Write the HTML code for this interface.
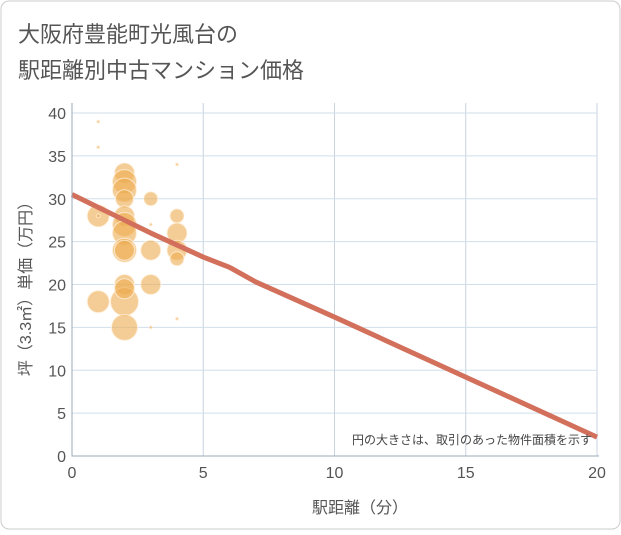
<!DOCTYPE html>
<html><head><meta charset="utf-8"><style>
body{margin:0;background:#fff;font-family:"Liberation Sans","Noto Sans CJK JP",sans-serif;}
#wrap{position:relative;width:621px;height:530px;}
</style></head><body>
<div id="wrap">
<svg id="chart" width="621" height="530" xmlns="http://www.w3.org/2000/svg">
<rect x="1" y="1" width="619" height="528" rx="8" fill="#fff" stroke="#ccc"/>
<text x="18" y="42" font-size="22" fill="#555" font-family="Liberation Sans,Noto Sans CJK JP,sans-serif">大阪府豊能町光風台の</text>
<text x="18" y="78" font-size="22" fill="#555" font-family="Liberation Sans,Noto Sans CJK JP,sans-serif">駅距離別中古マンション価格</text>
<g id="grid"></g><g id="bubbles"></g><g id="line"></g><g id="axes"></g>
<text x="592" y="444" font-size="12" fill="#444" text-anchor="end" font-family="Liberation Sans,Noto Sans CJK JP,sans-serif">円の大きさは、取引のあった物件面積を示す</text>
<text x="360" y="513" font-size="16" fill="#555" text-anchor="middle" font-family="Liberation Sans,Noto Sans CJK JP,sans-serif">駅距離（分）</text>
<text transform="translate(31,285) rotate(-90)" font-size="16" fill="#555" text-anchor="middle" font-family="Liberation Sans,Noto Sans CJK JP,sans-serif">坪（3.3㎡）単価（万円）</text>
</svg></div>
<script>
const xTicks=[0,5,10,15,20];
const yTicks=[0,5,10,15,20,25,30,35,40];
const bubbleX=[1,1,1,1,1,2,2,2,2,2,2,2,2,2,2,2,2,2,2,3,3,3,3,3,4,4,4,4,4,4];
const bubbleY=[39,36,28,18,28,33,32,31,30,28,27,26,24,24,20,18,15,19.5,27.5,30,24,20,27,15,34,28,26,24,23,16];
const bubbleSize=[1.5,1.5,11,11,2,10,12,12,9,10,12,12,12,10,10,14,13,10,2,7,10,10,1.5,1.5,1.5,7,10,10,7,1.5];
const lineX=[0,1,2,3,4,5,6,7,10,15,20];
const lineY=[30.5,29,27.5,26,24.6,23.2,22,20.3,16.2,9.2,2.2];
const NS="http://www.w3.org/2000/svg";
const X0=72,X1=597,Y0=456,Y1=113;
const sx=v=>X0+(v-0)/(20-0)*(X1-X0);
const sy=v=>Y0-(v-0)/(40-0)*(Y0-Y1);
function mk(t,a,p){const e=document.createElementNS(NS,t);for(const k in a)e.setAttribute(k,a[k]);document.getElementById(p).appendChild(e);return e;}
xTicks.forEach(v=>{
 const l=mk('line',{x1:sx(v),x2:sx(v),y1:Y1-10,y2:Y0,stroke:'#c8d4e0'},'grid');
 
 
 const t=mk('text',{x:sx(v),y:Y0+22,'font-size':16,fill:'#555','text-anchor':'middle'},'axes');
 t.textContent=v;
 
 
});
yTicks.forEach(v=>{
 const l=mk('line',{x1:X0,x2:X1,y1:sy(v),y2:sy(v),stroke:'#d0dfea'},'grid');
 
 
 const t=mk('text',{x:X0-6,y:sy(v)+6,'font-size':16,fill:'#555','text-anchor':'end'},'axes');
 t.textContent=v;
 
 
});
const ax=mk('path',{d:`M${X0} ${Y1-10}V${Y0}H${X1+2}`,stroke:'#9aa8b8',fill:'none'},'axes');


bubbleX.forEach((v,i)=>{
 const c=mk('circle',{cx:sx(v),cy:sy(bubbleY[i]),r:bubbleSize[i],fill:'rgba(236,172,80,0.6)',stroke:'rgba(255,240,220,0.8)','stroke-width':1},'bubbles');
 
 
});
const p=mk('polyline',{points:lineX.map((v,i)=>sx(v)+','+sy(lineY[i])).join(' '),fill:'none',stroke:'#d2705c','stroke-width':5,'stroke-linejoin':'round'},'line');


</script>
</body></html>
